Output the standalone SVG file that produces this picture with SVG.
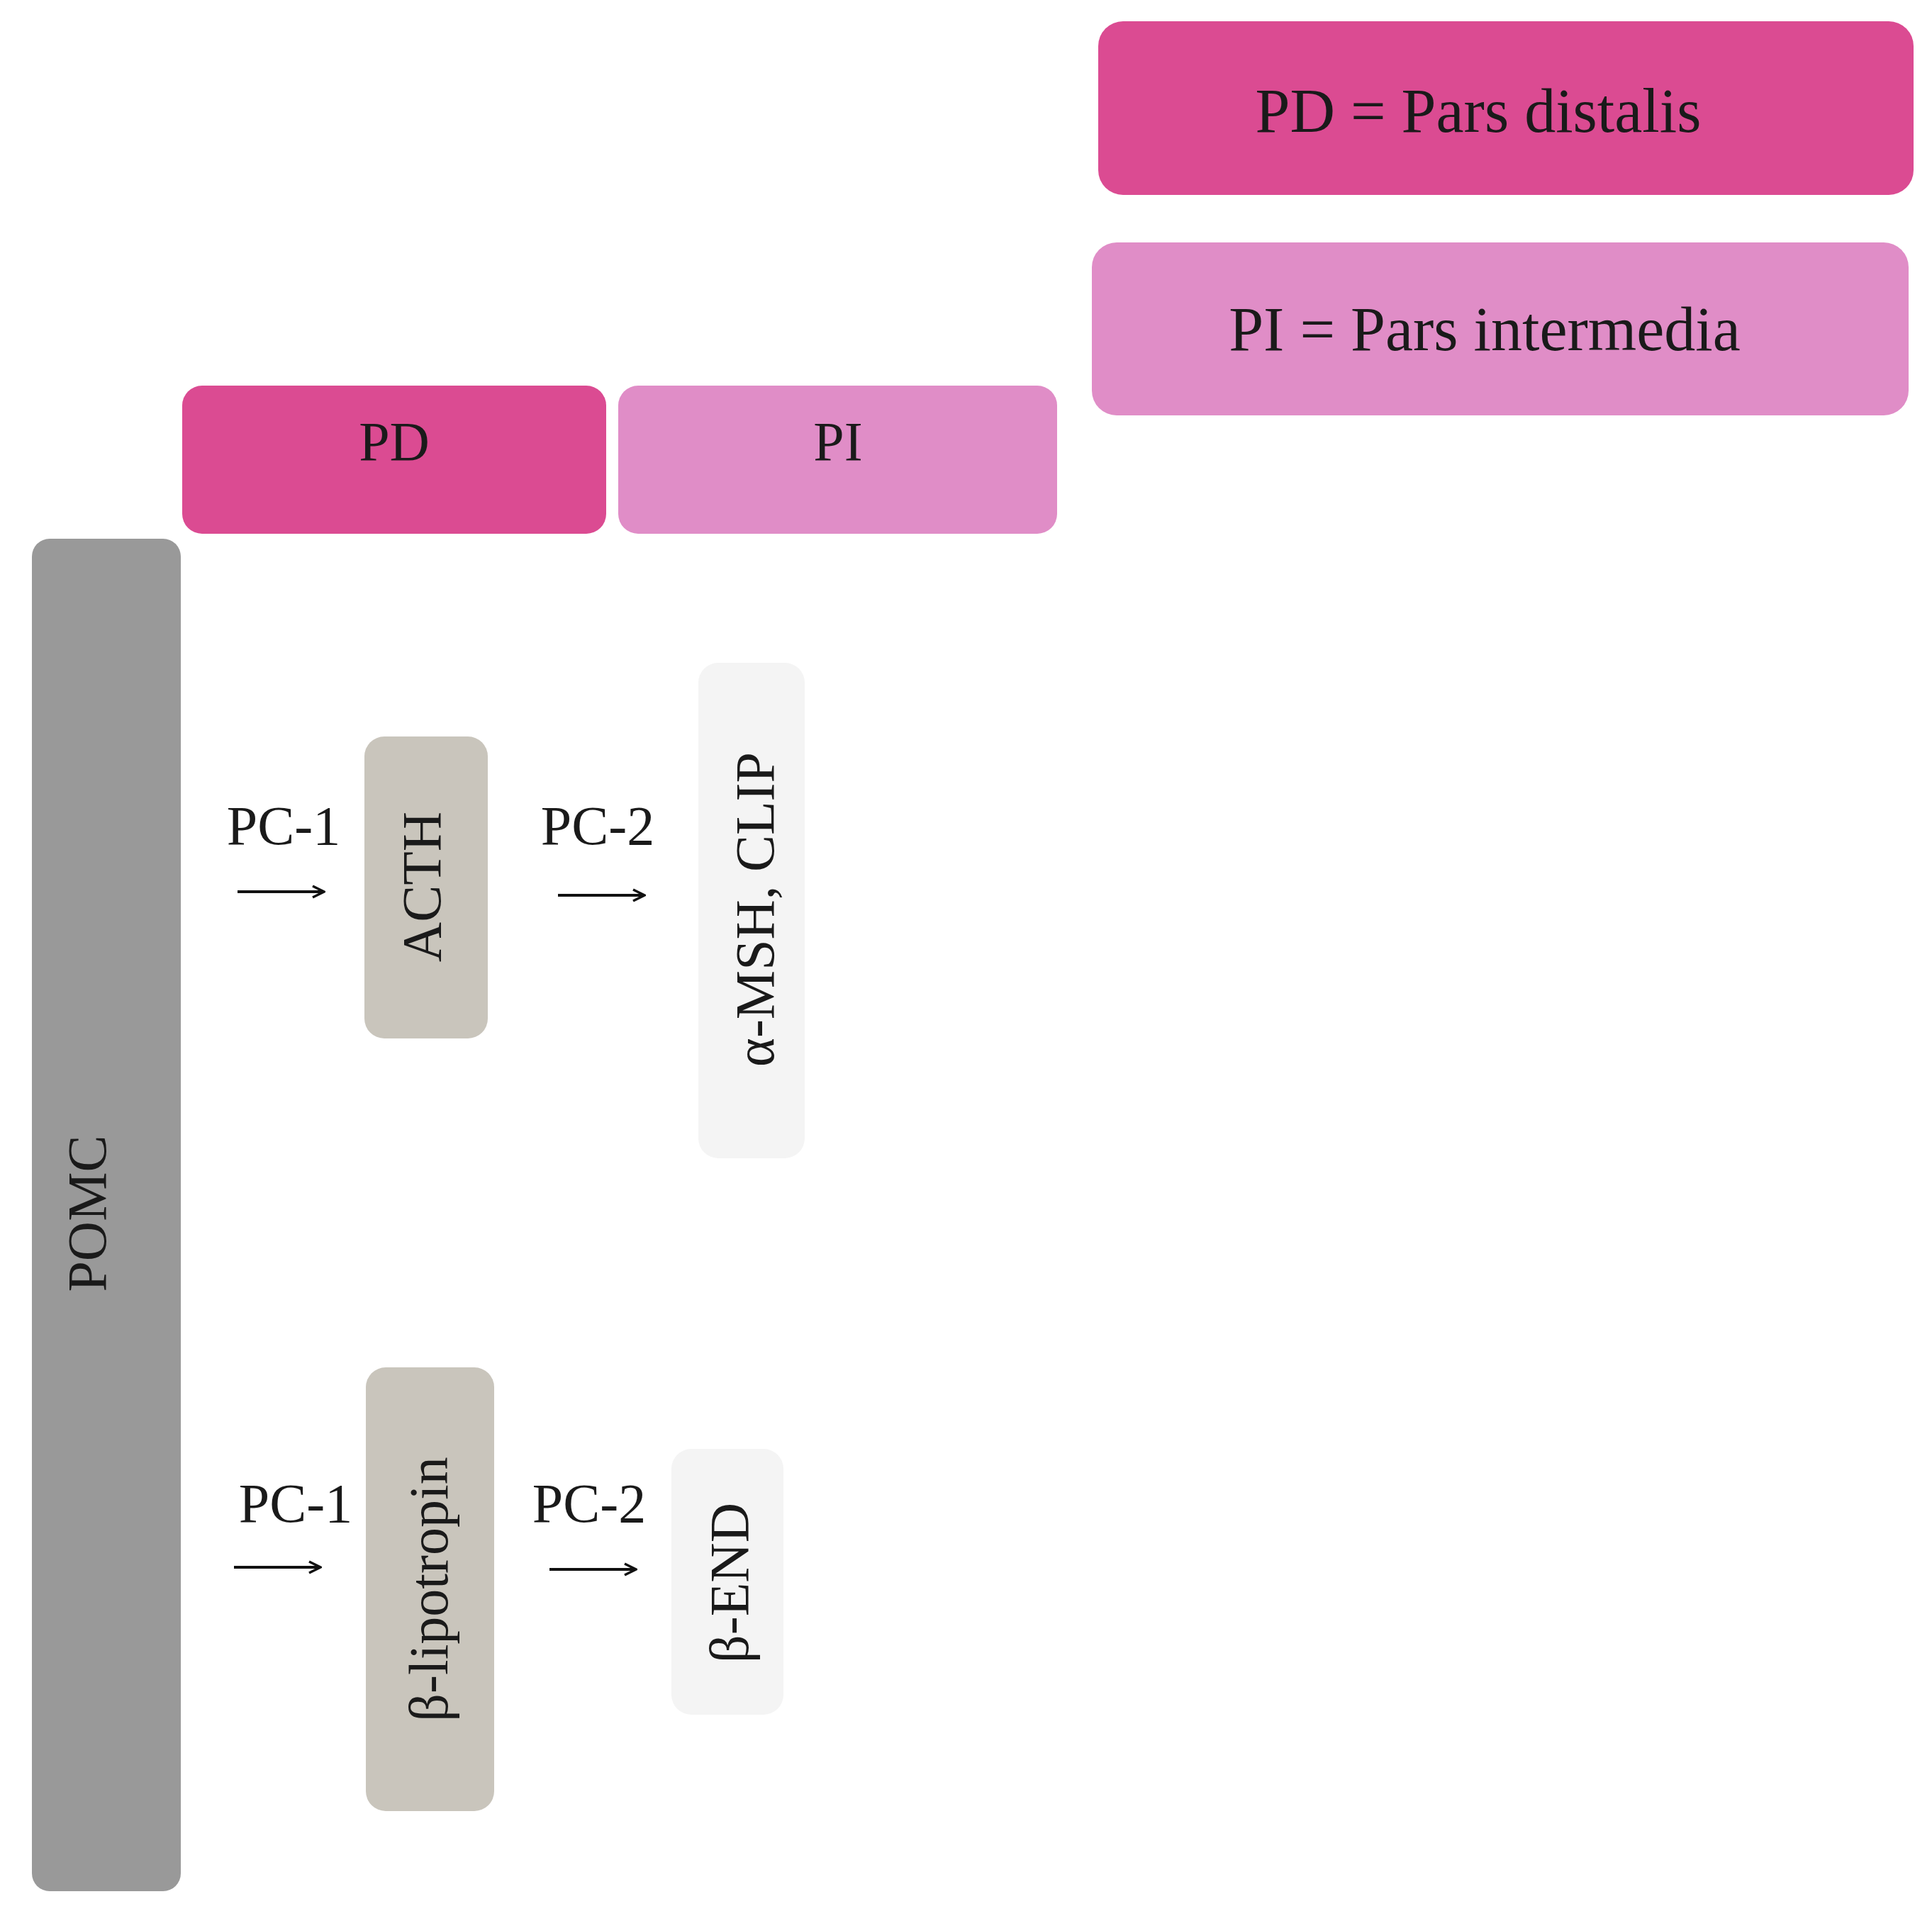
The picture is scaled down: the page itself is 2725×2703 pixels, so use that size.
<svg xmlns="http://www.w3.org/2000/svg" width="2725" height="2703" viewBox="0 0 2725 2703">
<style>
text{font-family:"Liberation Serif","DejaVu Serif",serif;fill:#1a1a1a;text-anchor:middle;dominant-baseline:central}
.pd{fill:#DB4B92}.pi{fill:#E08DC7}.gray{fill:#999999}.tan{fill:#C9C5BC}.lt{fill:#F4F4F4}
.ar{stroke:#111;stroke-width:4;fill:none;marker-end:url(#ah)}
</style>
<defs><marker id="ah" viewBox="0 0 20 20" refX="18" refY="10" markerWidth="20" markerHeight="20" markerUnits="userSpaceOnUse" orient="auto"><path d="M2,2 L18,10 L2,18" fill="none" stroke="#111" stroke-width="3.5"/></marker></defs>
<rect width="2725" height="2703" fill="#fff"/>
<g id="legend-pd"><rect class="pd" x="1549" y="30" width="1150" height="245" rx="35"/><text x="2085" y="156" font-size="88">PD = Pars distalis</text></g>
<g id="legend-pi"><rect class="pi" x="1540" y="342" width="1152" height="244" rx="35"/><text x="2094" y="464" font-size="88">PI = Pars intermedia</text></g>
<g id="hdr-pd"><rect class="pd" x="257" y="544" width="598" height="209" rx="28"/><text x="556" y="622" font-size="78">PD</text></g>
<g id="hdr-pi"><rect class="pi" x="872" y="544" width="619" height="209" rx="28"/><text x="1182" y="622" font-size="78">PI</text></g>
<g id="pomc"><rect class="gray" x="45" y="760" width="210" height="1908" rx="25"/><text transform="translate(122,1712) rotate(-90)" font-size="78">POMC</text></g>
<g id="acth"><rect class="tan" x="514" y="1039" width="174" height="426" rx="28"/><text transform="translate(594,1251) rotate(-90)" font-size="78">ACTH</text></g>
<g id="msh"><rect class="lt" x="985" y="935" width="150" height="699" rx="28"/><text transform="translate(1064,1283) rotate(-90)" font-size="78">α-MSH, CLIP</text></g>
<g id="lipo"><rect class="tan" x="516" y="1929" width="181" height="626" rx="28"/><text transform="translate(604,2242) rotate(-90)" font-size="78">β-lipotropin</text></g>
<g id="bend"><rect class="lt" x="947" y="2044" width="158" height="375" rx="28"/><text transform="translate(1028,2233) rotate(-90)" font-size="78">β-END</text></g>
<g id="connectors">
<text x="400" y="1164" font-size="78">PC-1</text><path class="ar" d="M335,1258 H457"/>
<text x="843" y="1164" font-size="78">PC-2</text><path class="ar" d="M787,1263 H909"/>
<text x="417" y="2120" font-size="78">PC-1</text><path class="ar" d="M330,2211 H452"/>
<text x="831" y="2120" font-size="78">PC-2</text><path class="ar" d="M775,2214 H897"/>
</g>
</svg>
